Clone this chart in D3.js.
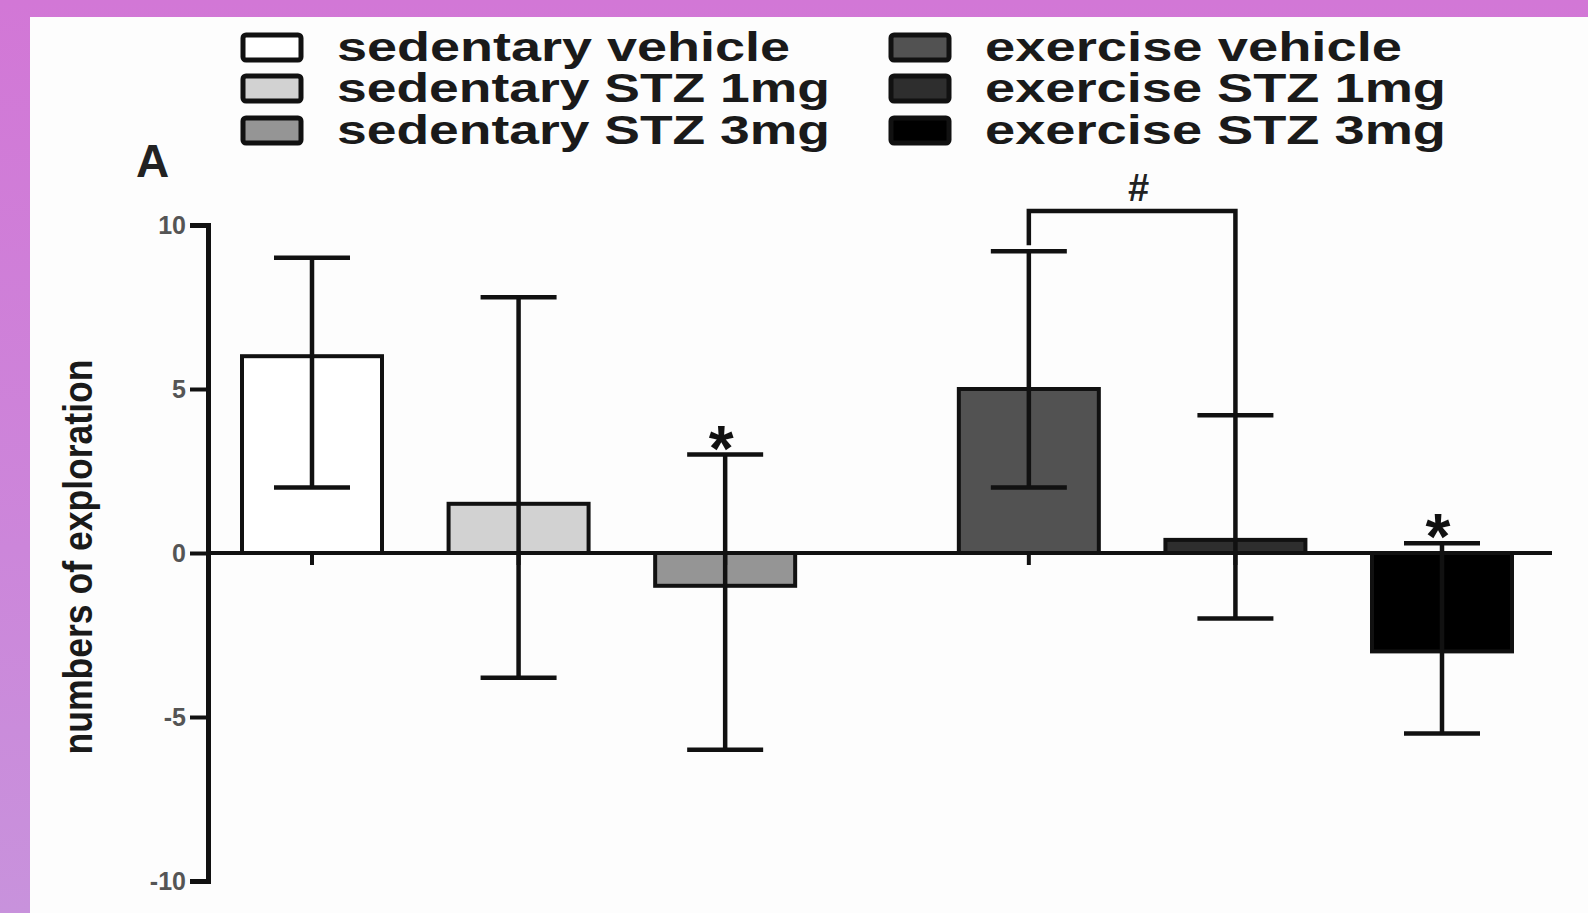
<!DOCTYPE html>
<html>
<head>
<meta charset="utf-8">
<script src="https://cdn.jsdelivr.net/npm/d3@7"></script>
<style>
  html, body { margin: 0; padding: 0; }
  body { width: 1588px; height: 913px; overflow: hidden;
         background: linear-gradient(180deg, #d277d6 0%, #cc86da 60%, #c892dc 100%); }
  svg { display: block; }
</style>
</head>
<body>
<div id="chart"></div>
<script>
// data
const groups = ["sedentary vehicle", "sedentary STZ 1mg", "sedentary STZ 3mg",
                "exercise vehicle", "exercise STZ 1mg", "exercise STZ 3mg"];
const means   = [6, 1.5, -1, 5, 0.4, -3];
const errTop  = [9, 7.8, 3, 9.2, 4.2, 0.3];
const errBot  = [2, -3.8, -6, 2, -2, -5.5];
const marks   = ["", "", "*", "", "", "*"];
const yTicks  = [-10, -5, 0, 5, 10];
const barColors = ["#ffffff", "#d2d2d2", "#959595", "#525252", "#2e2e2e", "#000000"];

const W = 1588, H = 913;
const svg = d3.select("#chart").append("svg")
    .attr("width", W)
    .attr("height", H);

// white panel inside the purple frame
svg.append("rect")
    .attr("x", 30).attr("y", 17)
    .attr("width", W - 30).attr("height", H - 17)
    .attr("fill", "#fdfdfd");

const color = d3.scaleOrdinal().domain(groups).range(barColors);

// slot position: second group shifted by a gap
const slot = i => i + (i >= 3 ? 0.47 : 0);
const x = d3.scaleLinear().domain([0, 5.47]).range([312, 1442]);
const y = d3.scaleLinear().domain([-10, 10]).range([881, 225]);
const barW = 140;
const capW = 76;

const data = groups.map((g, i) => ({
    name: g, mean: means[i], hi: errTop[i], lo: errBot[i], mark: marks[i], cx: x(slot(i))
}));

// y axis
const yAxis = svg.append("g")
    .attr("transform", "translate(208,0)")
    .call(d3.axisLeft(y).tickValues(yTicks).tickSize(18).tickPadding(4).tickFormat(d => String(d)));
yAxis.select(".domain").attr("stroke", "#111").attr("stroke-width", 5);
yAxis.selectAll(".tick line").attr("stroke", "#111").attr("stroke-width", 4);
yAxis.selectAll(".tick text")
    .attr("fill", "#555")
    .attr("font-family", "Liberation Sans, Arial, sans-serif")
    .attr("font-weight", "bold")
    .attr("font-size", 25)
    .attr("dy", "0.35em");

// bars
svg.selectAll("rect.bar")
    .data(data)
    .enter()
    .append("rect")
        .attr("class", "bar")
        .attr("x", d => d.cx - barW / 2)
        .attr("y", d => y(Math.max(0, d.mean)))
        .attr("width", barW)
        .attr("height", d => Math.abs(y(d.mean) - y(0)))
        .attr("fill", d => color(d.name))
        .attr("stroke", "#111")
        .attr("stroke-width", 4);

// zero line
svg.append("line")
    .attr("x1", 208).attr("x2", 1552)
    .attr("y1", y(0)).attr("y2", y(0))
    .attr("stroke", "#111").attr("stroke-width", 4);

// small ticks under the baseline at each group
svg.selectAll("line.xtick")
    .data(data)
    .enter()
    .append("line")
        .attr("class", "xtick")
        .attr("x1", d => d.cx).attr("x2", d => d.cx)
        .attr("y1", y(0)).attr("y2", y(0) + 12)
        .attr("stroke", "#111").attr("stroke-width", 4);

// error bars
const eb = svg.selectAll("g.err")
    .data(data)
    .enter()
    .append("g")
        .attr("class", "err")
        .attr("stroke", "#111")
        .attr("stroke-width", 4.5);

eb.append("line")
    .attr("x1", d => d.cx).attr("x2", d => d.cx)
    .attr("y1", d => y(d.hi)).attr("y2", d => y(d.lo));
eb.append("line")
    .attr("x1", d => d.cx - capW / 2).attr("x2", d => d.cx + capW / 2)
    .attr("y1", d => y(d.hi)).attr("y2", d => y(d.hi));
eb.append("line")
    .attr("x1", d => d.cx - capW / 2).attr("x2", d => d.cx + capW / 2)
    .attr("y1", d => y(d.lo)).attr("y2", d => y(d.lo));

// significance stars
svg.selectAll("text.star")
    .data(data.filter(d => d.mark))
    .enter()
    .append("text")
        .attr("class", "star")
        .attr("x", d => d.cx - 4)
        .attr("y", d => y(d.hi) + 16)
        .attr("text-anchor", "middle")
        .attr("font-family", "Liberation Sans, Arial, sans-serif")
        .attr("font-weight", "bold")
        .attr("font-size", 64)
        .attr("fill", "#111")
        .text(d => d.mark);

// bracket between exercise vehicle and exercise STZ 1mg
const bl = data[3], br = data[4];
const by = 211;
svg.append("path")
    .attr("d", `M${bl.cx},${y(bl.hi) - 6} L${bl.cx},${by} L${br.cx},${by} L${br.cx},${y(br.hi)}`)
    .attr("fill", "none")
    .attr("stroke", "#111")
    .attr("stroke-width", 4.5);
svg.append("text")
    .attr("x", (bl.cx + br.cx) / 2 + 6)
    .attr("y", by - 10)
    .attr("text-anchor", "middle")
    .attr("font-family", "Liberation Sans, Arial, sans-serif")
    .attr("font-size", 38)
    .attr("font-weight", "bold")
    .attr("font-style", "italic")
    .attr("fill", "#222")
    .text("#");

// panel letter
svg.append("text")
    .attr("x", 136).attr("y", 177)
    .attr("font-family", "Liberation Sans, Arial, sans-serif")
    .attr("font-size", 46)
    .attr("font-weight", "bold")
    .attr("fill", "#222")
    .text("A");

// y label
svg.append("text")
    .attr("transform", "translate(92,557) rotate(-90)")
    .attr("text-anchor", "middle")
    .attr("font-family", "Liberation Sans Narrow, Liberation Sans, Arial, sans-serif")
    .attr("font-weight", "bold")
    .attr("font-size", 40)
    .attr("textLength", 395)
    .attr("lengthAdjust", "spacingAndGlyphs")
    .attr("fill", "#1a1a1a")
    .text("numbers of exploration");

// legend
const legendW = [453, 493, 493, 417, 461, 461];
const leg = svg.selectAll("g.leg")
    .data(data)
    .enter()
    .append("g")
        .attr("class", "leg")
        .attr("transform", (d, i) => `translate(${i < 3 ? 241 : 889},${[47, 88, 130][i % 3]})`);
leg.append("rect")
    .attr("x", 2).attr("y", -12)
    .attr("width", 58).attr("height", 25)
    .attr("rx", 3)
    .attr("fill", d => color(d.name))
    .attr("stroke", "#111")
    .attr("stroke-width", 5);
leg.append("text")
    .attr("x", 96)
    .attr("y", 0)
    .attr("dy", "0.35em")
    .attr("font-family", "Liberation Sans, Arial, sans-serif")
    .attr("font-weight", "bold")
    .attr("font-size", 40)
    .attr("textLength", (d, i) => legendW[i])
    .attr("lengthAdjust", "spacingAndGlyphs")
    .attr("fill", "#1a1a1a")
    .text(d => d.name);
</script>
</body>
</html>
